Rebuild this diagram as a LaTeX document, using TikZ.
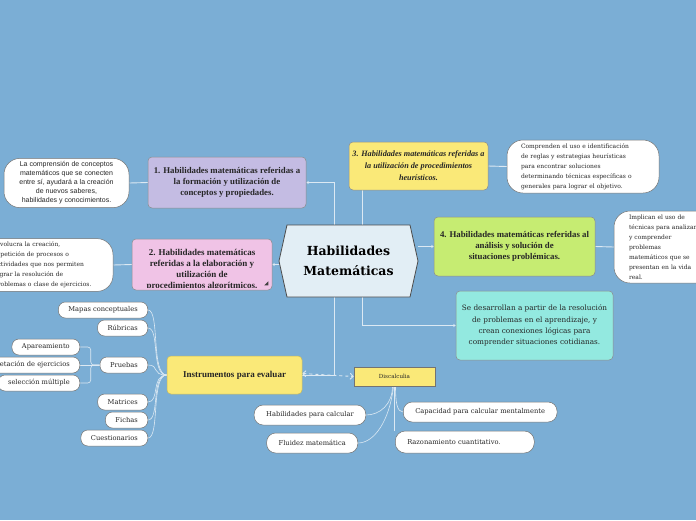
\documentclass[tikz,border=0pt]{standalone}
\usepackage{fontspec}
\setmainfont{Liberation Serif}
\newfontfamily\notefont{DejaVu Serif}
\newfontfamily\sansnote{Liberation Sans}
\usetikzlibrary{shapes.symbols,arrows.meta,positioning}
\definecolor{bgblue}{HTML}{7BAED5}
\definecolor{linkc}{HTML}{DCE9F3}
\definecolor{centc}{HTML}{E2EEF5}
\definecolor{purplec}{HTML}{C4BCE3}
\definecolor{pinkc}{HTML}{F0C3E6}
\definecolor{yellowc}{HTML}{FAE978}
\definecolor{greenc}{HTML}{C6EC72}
\definecolor{aquac}{HTML}{93E9E0}
\pgfdeclarelayer{canvas}
\pgfdeclarelayer{links}
\pgfsetlayers{canvas,links,main}

\begin{document}
\begin{tikzpicture}[x=1pt, y=-1pt, >=Stealth,
  link/.style={draw=linkc, line width=0.9pt},
  tip/.style={-{Stealth[length=2.5pt,width=3pt]}},
  topic/.style={draw=black!45, line width=0.5pt, rounded corners=4pt, align=center, text=black!85, font=\bfseries\fontsize{8.8}{11.3}\selectfont},
  note/.style={draw=black!55, fill=white, rounded corners=16pt, line width=0.5pt, text=black!85, font=\notefont\fontsize{6}{10}\selectfont},
  leaf/.style={draw=black!55, fill=white, rounded corners=7pt, line width=0.5pt, inner xsep=10pt, inner ysep=0pt, minimum height=16pt, text=black!85, font=\notefont\fontsize{6.7}{7}\selectfont}]
  \begin{pgfonlayer}{canvas}
    \fill[bgblue] (0,0) rectangle (696,520);
  \end{pgfonlayer}
  \useasboundingbox (0,0) rectangle (696,520);

  % centre and main topics
  \node[signal, signal to=west and east, signal pointer angle=155, minimum width=139pt, minimum height=72pt, fill=centc, draw=black!70, line width=0.8pt, align=center, font=\notefont\bfseries\fontsize{12.5}{20}\selectfont] (cent) at (348.5,261) {Habilidades\\Matemáticas};
  \node[topic, fill=purplec, minimum width=158pt, minimum height=51pt] (h1) at (227,182.5) {1. Habilidades matemáticas referidas a\\la formación y utilización de\\conceptos y propiedades.};
  \node[topic, fill=pinkc, minimum width=140pt, minimum height=51pt] (h2) at (202,264.5) {};
  \begin{scope}
    \clip (h2.north west) rectangle ([yshift=3pt]h2.south east);
    \node[topic, draw=none, anchor=north, font=\bfseries\fontsize{9}{11}\selectfont] (h2txt) at (202,245.5) {2. Habilidades matemáticas\\referidas a la elaboración y\\utilización de\\procedimientos algorítmicos.};
  \end{scope}
  \fill[black!75] ([shift={(-4,-5)}]h2.south east) -- ++(0,-4) -- ++(-4,4) -- cycle;
  \node[topic, fill=yellowc, minimum width=139pt, minimum height=48pt, font=\bfseries\itshape\fontsize{8.2}{12}\selectfont] (h3) at (418.5,166) {3. Habilidades matemáticas referidas a\\la utilización de procedimientos\\heurísticos.};
  \node[topic, fill=greenc, minimum width=161pt, minimum height=59pt, font=\bfseries\fontsize{8.8}{11}\selectfont] (h4) at (514.5,246.5) {4. Habilidades matemáticas referidas al\\análisis y solución de\\situaciones problémicas.};
  \node[topic, fill=aquac, minimum width=157pt, minimum height=69pt, font=\notefont\fontsize{7.3}{11.3}\selectfont] (h5) at (534.5,325.5) {Se desarrollan a partir de la resolución\\de problemas en el aprendizaje, y\\crean conexiones lógicas para\\comprender situaciones cotidianas.};
  \node[topic, fill=yellowc, draw=yellowc!80!black, minimum width=135pt, minimum height=38pt, font=\bfseries\fontsize{9}{10}\selectfont] (instr) at (234.5,375) {Instrumentos para evaluar};
  \node[topic, fill=yellowc, draw=black!55, rounded corners=0pt, minimum width=81pt, minimum height=19pt, font=\notefont\fontsize{5.6}{7}\selectfont] (disc) at (394.5,376.5) {Discalculia};

  % notes
  \node[note, minimum width=125pt, minimum height=46pt, align=center, font=\sansnote\fontsize{7}{9}\selectfont] (n1) at (66.5,183) {La comprensión de conceptos\\matemáticos que se conecten\\entre sí, ayudará a la creación\\de nuevos saberes,\\habilidades y conocimientos.};
  \node[note, minimum width=130pt, minimum height=52pt, text width=108pt, align=left, inner xsep=8pt] (n2) at (48,265) {Involucra la creación,\\repetición de procesos o\\actividades que nos permiten\\lograr la resolución de\\problemas o clase de ejercicios.};
  \node[note, minimum width=152pt, minimum height=53pt, text width=124pt, align=left, inner xsep=14pt] (n3) at (583,166.5) {Comprenden el uso e identificación\\de reglas y estrategias heurísticas\\para encontrar soluciones\\determinando técnicas específicas o\\generales para lograr el objetivo.};
  \node[note, minimum width=148pt, minimum height=72pt, text width=118pt, align=left, inner xsep=15pt] (n4) at (688,247) {Implican el uso de\\técnicas para analizar\\y comprender\\problemas\\matemáticos que se\\presentan en la vida\\real.};

  % instruments
  \node[leaf, anchor=east] (mapas) at (148,310) {Mapas conceptuales};
  \node[leaf, anchor=east] (rubr) at (148,328) {Rúbricas};
  \node[leaf, anchor=east] (prueb) at (148,365) {Pruebas};
  \node[leaf, anchor=east] (matr) at (148,402) {Matrices};
  \node[leaf, anchor=east] (fich) at (148,420) {Fichas};
  \node[leaf, anchor=east] (cuest) at (148,438) {Cuestionarios};
  \node[leaf, anchor=east] (apar) at (80,347) {Apareamiento};
  \node[leaf, anchor=east] (compl) at (80,365) {Completación de ejercicios};
  \node[leaf, anchor=east] (selec) at (80,383) {selección múltiple};

  % discalculia
  \node[leaf, anchor=east, minimum height=20pt, inner xsep=12pt, rounded corners=9pt] (habil) at (366,415) {Habilidades para calcular};
  \node[leaf, anchor=east, minimum height=20pt, inner xsep=12pt, rounded corners=9pt] (fluid) at (358,443) {Fluidez matemática};
  \node[leaf, anchor=west, minimum height=20pt, inner xsep=12pt, rounded corners=9pt] (capac) at (403,412) {Capacidad para calcular mentalmente};
  \node[leaf, anchor=west, minimum height=22pt, inner xsep=12pt, rounded corners=10pt, text width=115pt, align=left] (razon) at (395,442) {Razonamiento cuantitativo.};

  \begin{pgfonlayer}{links}
    \draw[link,tip] ([xshift=-14.5pt]cent.north) |- (h1.east);
    \draw[link] ([xshift=13.5pt]cent.north) -- ([xshift=13.5pt]cent.north |- h3.south);
    \draw[link,tip] (h2.east -| cent.west) -- (h2.east);
    \draw[link,tip] (h4.west -| cent.east) -- (h4.west);
    \draw[link,tip] ([xshift=13.5pt]cent.south) |- (h5.west);
    \draw[link] ([xshift=-14.5pt]cent.south) |- (instr.east);
    \draw[link, dashed, {Straight Barb[length=3pt]}-{Straight Barb[length=3pt]}] ([yshift=1.5pt]instr.east) -- (disc.west);
    \draw[link] (h1.west) -- (n1.east);
    \draw[link] (h2.west) -- (n2.east);
    \draw[link] (h3.east) -- (n3.west);
    \draw[link] (h4.east) -- (n4.west);
    \foreach \n in {mapas,rubr,prueb,matr,fich,cuest}
      \draw[link, line width=0.6pt] (instr.west) .. controls +(-16,0) and +(12,0) .. (\n.east);
    \draw[link, line width=0.6pt, rounded corners=3pt] (prueb.west) -- ++(-9,0) |- (apar.east);
    \draw[link, line width=0.6pt, rounded corners=3pt] (prueb.west) -- ++(-9,0) |- (selec.east);
    \draw[link, line width=0.6pt] (prueb.west) -- (compl.east);
    \draw[link, line width=0.6pt] ([xshift=-2pt]disc.south) .. controls +(0,18) and +(14,0) .. (habil.east);
    \draw[link, line width=0.6pt] ([xshift=-1pt]disc.south) .. controls +(-4,35) and +(16,0) .. (fluid.east);
    \draw[link, line width=0.6pt] ([xshift=1pt]disc.south) .. controls +(0,16) and +(-6,0) .. (capac.west);
    \draw[link, line width=0.6pt] (disc.south) -- (disc.south |- razon.north);
  \end{pgfonlayer}
\end{tikzpicture}
\end{document}
